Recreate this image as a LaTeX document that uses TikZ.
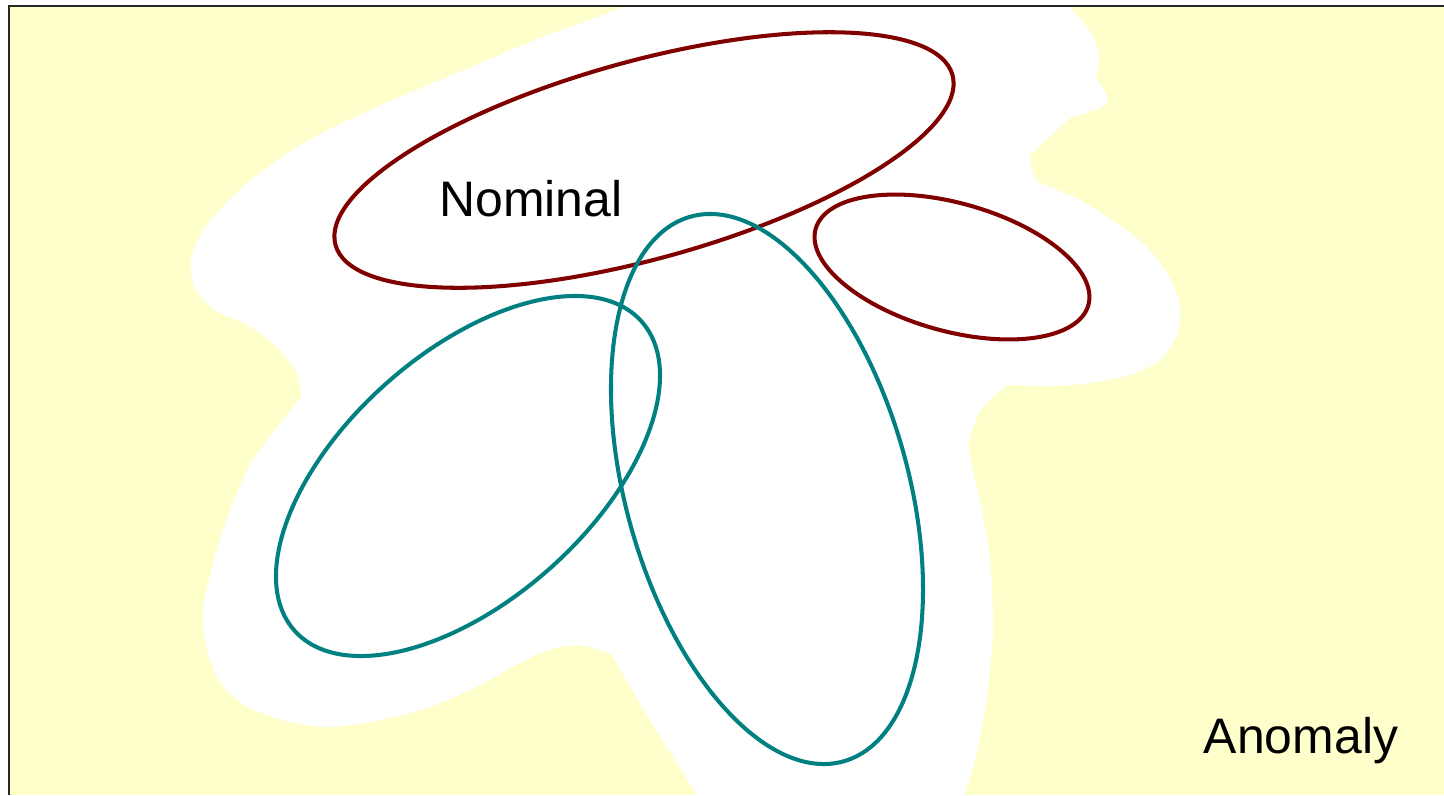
\documentclass[tikz,border=0pt]{standalone}
\usepackage{fontspec}
\setmainfont{Liberation Sans}
\usepackage{tikz}
\definecolor{bgyellow}{HTML}{FFFFCC}
\definecolor{nomred}{HTML}{800000}
\definecolor{nomteal}{HTML}{008080}
\tikzset{
  redset/.style={draw=nomred, line width=1.15pt},
  tealset/.style={draw=nomteal, line width=1.15pt},
  region/.style={font=\fontsize{14.2pt}{16pt}\selectfont, inner sep=0pt, anchor=base},
  frame/.style={draw=black!85, line width=0.18mm},
}

\begin{document}
\begin{tikzpicture}[x=0.1mm, y=-0.1mm]
\useasboundingbox (0,0) rectangle (1444,795);
% background and the white nominal region
\begin{scope}
\clip (9,6) rectangle (1444,795);
\fill[bgyellow] (9,6) rectangle (1444,795);
\fill[white] plot[smooth] coordinates {(700,-40) (624,6) (540,38) (450,76) (370,110) (300,145) (245,185) (207,225) (191,258) (195,288) (215,310) (247,325) (275,345) (295,370) (302,396)}
  -- plot[smooth] coordinates {(302,396) (275,430) (250,465) (230,510) (214,560) (203,610) (207,650) (222,685) (250,708) (290,722) (330,727) (380,720) (430,707) (480,685) (520,663) (555,648) (585,646) (612,655)}
  -- plot[smooth] coordinates {(612,655) (650,720) (697,795) (715,825)}
  -- (962,825)
  -- plot[smooth] coordinates {(962,825) (965,795) (975,760) (985,710) (991,660) (993,620) (990,560) (982,510) (975,480) (968,448)}
  -- plot[smooth] coordinates {(968,448) (972,430) (983,407) (1007,385)}
  -- plot[smooth] coordinates {(1007,385) (1050,386) (1090,383) (1130,375) (1160,360) (1177,335) (1180,305) (1168,275) (1145,245) (1115,222) (1080,200) (1037,182)}
  -- plot[smooth] coordinates {(1037,182) (1032,170) (1030,155)}
  -- (1070,118)
  -- plot[smooth] coordinates {(1070,118) (1102,107) (1107,96) (1096,78)}
  -- plot[smooth] coordinates {(1096,78) (1099,57) (1092,35) (1080,18) (1067,6) (1050,-10)}
  -- cycle;
\end{scope}
\draw[frame] (1444,6) -- (9,6) -- (9,795);
% clusters
\draw[redset] (644,160) ellipse [x radius=32mm, y radius=9.9mm, rotate=15.4];
\draw[redset] (952,267) ellipse [x radius=14.16mm, y radius=6.4mm, rotate=-15.6];
\draw[tealset] (468,476) ellipse [x radius=23.24mm, y radius=12.35mm, rotate=41.7];
\draw[tealset] (767,489) ellipse [x radius=28.29mm, y radius=14.12mm, rotate=-74.3];
\node[region] (nominal) at (531,216) {Nominal};
\node[region] (anomaly) at (1301,753) {Anomaly};
\end{tikzpicture}
\end{document}
